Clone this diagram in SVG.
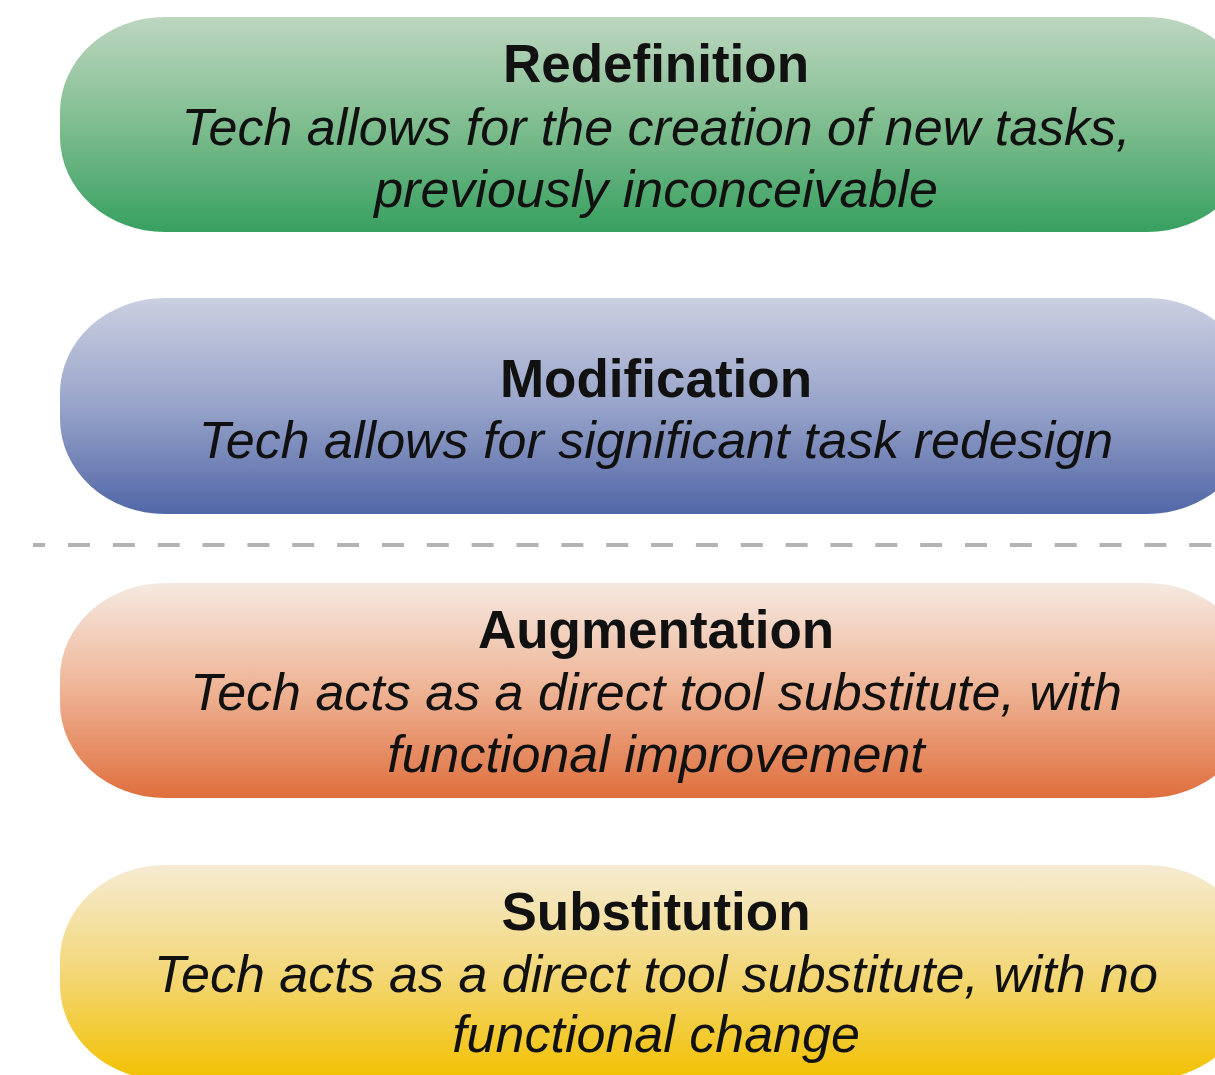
<svg xmlns="http://www.w3.org/2000/svg" width="1215" height="1075" viewBox="0 0 1215 1075">
<defs>
<linearGradient id="gGreen" x1="0" y1="0" x2="0" y2="1">
<stop offset="0" stop-color="#bdd6c0"/><stop offset="0.5" stop-color="#7fbd8f"/><stop offset="1" stop-color="#37a060"/>
</linearGradient>
<linearGradient id="gBlue" x1="0" y1="0" x2="0" y2="1">
<stop offset="0" stop-color="#cbcfe1"/><stop offset="0.5" stop-color="#97a3c9"/><stop offset="1" stop-color="#5267a7"/>
</linearGradient>
<linearGradient id="gOrange" x1="0" y1="0" x2="0" y2="1">
<stop offset="0" stop-color="#f5e9e1"/><stop offset="0.5" stop-color="#eeb394"/><stop offset="1" stop-color="#df6f3e"/>
</linearGradient>
<linearGradient id="gYellow" x1="0" y1="0" x2="0" y2="1">
<stop offset="0" stop-color="#f5ebd3"/><stop offset="0.5" stop-color="#f3d778"/><stop offset="1" stop-color="#f2c100"/>
</linearGradient>
</defs>
<style>
.pill{stroke:none}
.title{font-family:"Liberation Sans",Arial,sans-serif;font-weight:bold;font-size:53px;fill:#111;text-anchor:middle}
.desc{font-family:"Liberation Sans",Arial,sans-serif;font-style:italic;font-size:52px;fill:#111;text-anchor:middle}
.sep{stroke:#b3b3b3;stroke-width:4;stroke-dasharray:22 22.85;stroke-dashoffset:9.85;fill:none}
</style>
<rect width="1215" height="1075" fill="#ffffff"/>
<g id="redefinition">
<rect class="pill" x="60" y="17" width="1192" height="215" rx="105" ry="95" fill="url(#gGreen)"/>
<text class="title" x="656" y="82">Redefinition</text>
<text class="desc" x="656" y="145">Tech allows for the creation of new tasks,</text>
<text class="desc" x="656" y="207">previously inconceivable</text>
</g>
<g id="modification">
<rect class="pill" x="60" y="298" width="1192" height="216" rx="105" ry="95" fill="url(#gBlue)"/>
<text class="title" x="656" y="397">Modification</text>
<text class="desc" x="656" y="458">Tech allows for significant task redesign</text>
</g>
<g id="connectors">
<line class="sep" x1="33" y1="545" x2="1215" y2="545"/>
</g>
<g id="augmentation">
<rect class="pill" x="60" y="583" width="1192" height="215" rx="105" ry="95" fill="url(#gOrange)"/>
<text class="title" x="656" y="648">Augmentation</text>
<text class="desc" x="656" y="710">Tech acts as a direct tool substitute, with</text>
<text class="desc" x="656" y="772">functional improvement</text>
</g>
<g id="substitution">
<rect class="pill" x="60" y="865" width="1192" height="215" rx="105" ry="95" fill="url(#gYellow)"/>
<text class="title" x="656" y="930">Substitution</text>
<text class="desc" x="656" y="992">Tech acts as a direct tool substitute, with no</text>
<text class="desc" x="656" y="1052">functional change</text>
</g>
</svg>
